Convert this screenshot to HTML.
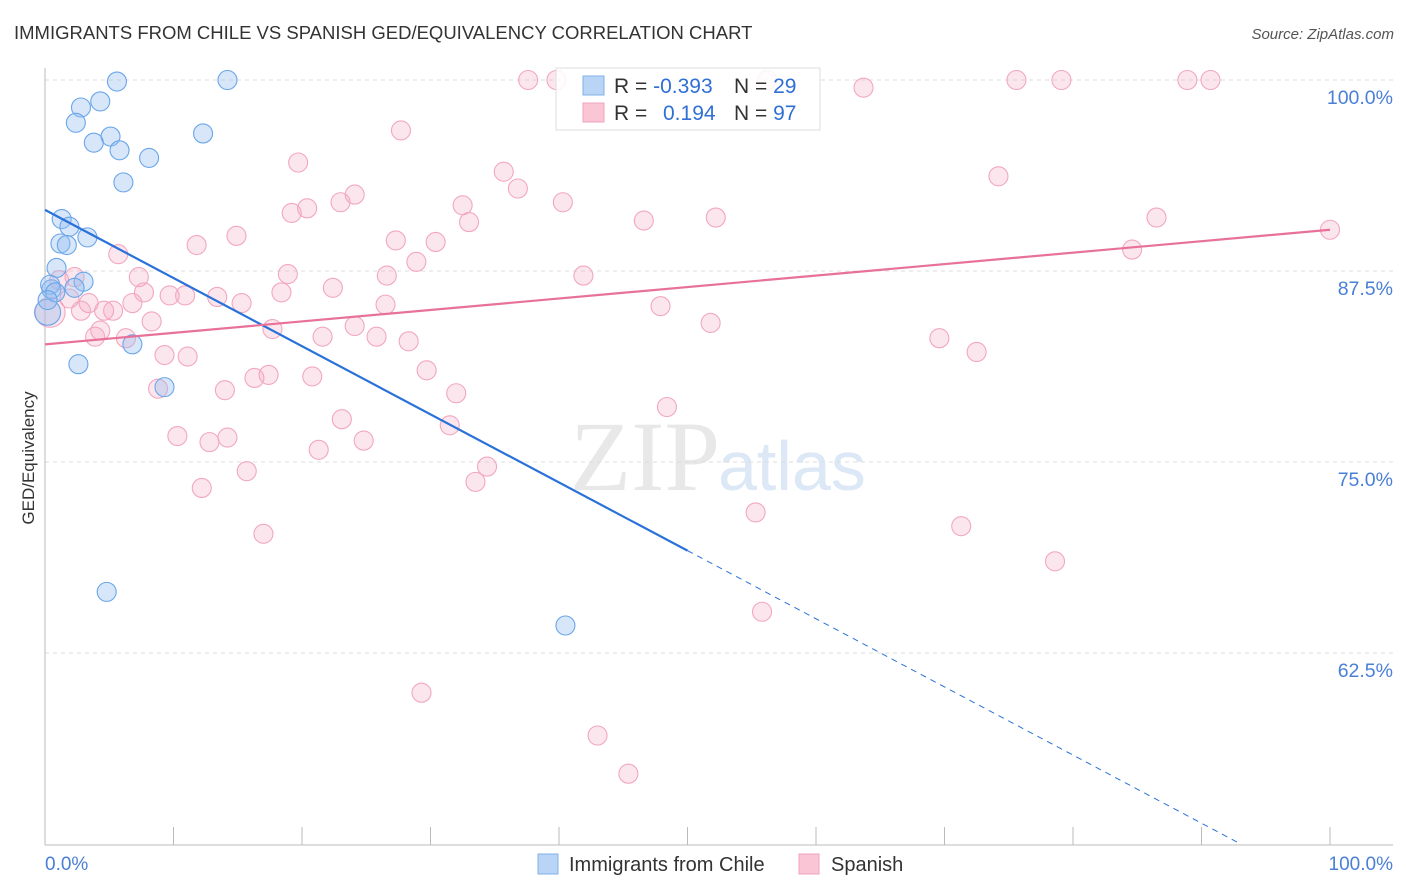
<!DOCTYPE html>
<html><head><meta charset="utf-8"><style>
body{margin:0;background:#fff;font-family:"Liberation Sans",sans-serif;}
#wrap{position:relative;width:1406px;height:892px;overflow:hidden;}
</style></head><body>
<div id="wrap">
<svg id="svg" width="1406" height="892">
<text x="14" y="39" font-size="18.5" fill="#333">IMMIGRANTS FROM CHILE VS SPANISH GED/EQUIVALENCY CORRELATION CHART</text>
<text x="1394" y="39" font-size="15" fill="#555" font-style="italic" text-anchor="end">Source: ZipAtlas.com</text>
<text x="34" y="458" font-size="17" fill="#333" text-anchor="middle" transform="rotate(-90 34 458)">GED/Equivalency</text>
<text x="720" y="490" font-size="100" fill="#e8e8e8" text-anchor="end" font-family="Liberation Serif">ZIP</text>
<text x="718" y="490" font-size="70" fill="#dce8f6">atlas</text>
<g id="grid"></g><g id="axes"></g><g id="pts"></g><g id="trend"></g>
<g>
<rect x="556" y="68" width="264" height="62" fill="rgba(255,255,255,0.85)" stroke="#ddd"/>
<rect x="583" y="76" width="21" height="19" fill="#b9d4f5" stroke="#7fb0ea"/>
<text x="614" y="93" font-size="21" fill="#333">R = <tspan fill="#2f6fd6">-0.393</tspan><tspan x="734">N = </tspan><tspan fill="#2f6fd6">29</tspan></text>
<rect x="583" y="103" width="21" height="19" fill="#fac6d6" stroke="#f0a3bc"/>
<text x="614" y="120" font-size="21" fill="#333">R = <tspan x="663" fill="#2f6fd6">0.194</tspan><tspan x="734">N = </tspan><tspan fill="#2f6fd6">97</tspan></text>
</g>
<g>
<rect x="538" y="854" width="20" height="20" fill="#b9d4f5" stroke="#7fb0ea"/>
<text x="569" y="871" font-size="20" fill="#333">Immigrants from Chile</text>
<rect x="799" y="854" width="20" height="20" fill="#fac6d6" stroke="#f0a3bc"/>
<text x="831" y="871" font-size="20" fill="#333">Spanish</text>
</g>
<text x="45" y="870" font-size="19" fill="#4a7fd6">0.0%</text>
<text x="1393" y="870" font-size="19" fill="#4a7fd6" text-anchor="end">100.0%</text>
</svg></div>
<script>
const yTicks=[100,87.5,75,62.5];
const yTickLabels=["100.0%","87.5%","75.0%","62.5%"];
const xTicks=[0,10,20,30,40,50,60,70,80,90,100];
const chileX=[5.6,14.2,4.3,2.8,2.4,5.1,3.8,12.3,5.8,8.1,6.1,1.3,1.9,1.2,1.7,3.3,0.9,3.0,0.5,2.3,0.2,6.8,2.6,9.3,4.8,40.5,0.4,0.8,0.2];
const chileY=[99.9,100,98.6,98.2,97.2,96.3,95.9,96.5,95.4,94.9,93.3,90.9,90.4,89.3,89.2,89.7,87.7,86.8,86.3,86.4,84.8,82.7,81.4,79.9,66.5,64.3,86.6,86.1,85.6];
const spanX=[37.6,39.8,56.2,63.7,75.6,79.1,88.9,90.7,27.7,19.7,35.7,36.8,24.1,23.0,20.4,19.2,32.5,40.3,33.0,46.6,52.2,74.2,86.5,100,14.9,11.8,27.3,30.4,84.6,5.7,28.9,26.6,18.9,41.9,7.3,2.3,1.1,22.4,18.4,7.7,9.7,10.9,13.4,15.3,3.4,6.8,26.5,47.9,2.8,4.6,5.3,0.4,1.9,8.3,51.8,24.1,17.7,4.3,21.6,25.8,3.9,6.3,28.3,69.6,72.5,9.3,11.1,29.7,16.3,17.4,20.8,14.0,8.8,32.0,48.4,23.1,31.5,10.3,14.2,12.8,24.8,21.3,34.4,15.7,33.5,12.2,55.3,71.3,17.0,78.6,55.8,29.3,43.0,45.4];
const spanY=[100,100,100,99.5,100,100,100,100,96.7,94.6,94.0,92.9,92.5,92.0,91.6,91.3,91.8,92.0,90.7,90.8,91.0,93.7,91.0,90.2,89.8,89.2,89.5,89.4,88.9,88.6,88.1,87.2,87.3,87.2,87.1,87.1,86.9,86.4,86.1,86.1,85.9,85.9,85.8,85.4,85.4,85.4,85.3,85.2,84.9,84.9,84.9,84.8,85.7,84.2,84.1,83.9,83.7,83.6,83.2,83.2,83.2,83.1,82.9,83.1,82.2,82.0,81.9,81.0,80.5,80.7,80.6,79.7,79.8,79.5,78.6,77.8,77.4,76.7,76.6,76.3,76.4,75.8,74.7,74.4,73.7,73.3,71.7,70.8,70.3,68.5,65.2,59.9,57.1,54.6];
const chileTrend=[91.5,-0.446];
const spanTrend=[82.7,0.075];
const NS="http://www.w3.org/2000/svg";
const X=v=>45+v*12.85, Y=v=>80+(100-v)*15.28;
function mk(tag,attrs,parent){const e=document.createElementNS(NS,tag);for(const k in attrs)e.setAttribute(k,attrs[k]);document.getElementById(parent).appendChild(e);return e;}
yTicks.forEach((t,i)=>{
 let l=mk('line',{x1:45,x2:1393,y1:Y(t),y2:Y(t),stroke:'#ddd','stroke-dasharray':'4,4'},'grid');
 
 
 let tx=mk('text',{x:1393,y:Y(t)+24,'font-size':19.5,fill:'#4a7fd6','text-anchor':'end'},'grid');
 tx.textContent=yTickLabels[i];
 
 
});
let ax=mk('line',{x1:45,x2:45,y1:68,y2:845,stroke:'#bbb'},'axes');


let bx=mk('line',{x1:45,x2:1393,y1:845,y2:845,stroke:'#bbb'},'axes');


xTicks.forEach(t=>{let k=mk('line',{x1:X(t),x2:X(t),y1:827,y2:845,stroke:'#bbb'},'axes');
 
 });
spanX.forEach((x,i)=>{let c=mk('circle',{cx:X(x),cy:Y(spanY[i]),r:(x<0.5?15:9.5),fill:'rgba(245,165,190,0.28)',stroke:'#f2a7bf','stroke-width':1.1},'pts');
 
 });
chileX.forEach((x,i)=>{let c=mk('circle',{cx:X(x),cy:Y(chileY[i]),r:(x<0.3&&chileY[i]<85.5&&chileY[i]>84?13:9.5),fill:'rgba(150,190,240,0.38)',stroke:'#6aa6ea','stroke-width':1.1},'pts');
 
 });
const cy=x=>chileTrend[0]+chileTrend[1]*x;
const xEnd=(50-chileTrend[0])/chileTrend[1];
let t1=mk('line',{x1:X(0),y1:Y(cy(0)),x2:X(50),y2:Y(cy(50)),stroke:'#2a72d9','stroke-width':2.2},'trend');


let t2=mk('line',{x1:X(50),y1:Y(cy(50)),x2:X(xEnd),y2:Y(cy(xEnd)),stroke:'#2a72d9','stroke-width':1,'stroke-dasharray':'6,5'},'trend');


const sy=x=>spanTrend[0]+spanTrend[1]*x;
let t3=mk('line',{x1:X(0),y1:Y(sy(0)),x2:X(100),y2:Y(sy(100)),stroke:'#e8719a','stroke-width':2.2},'trend');


</script>
</body></html>
